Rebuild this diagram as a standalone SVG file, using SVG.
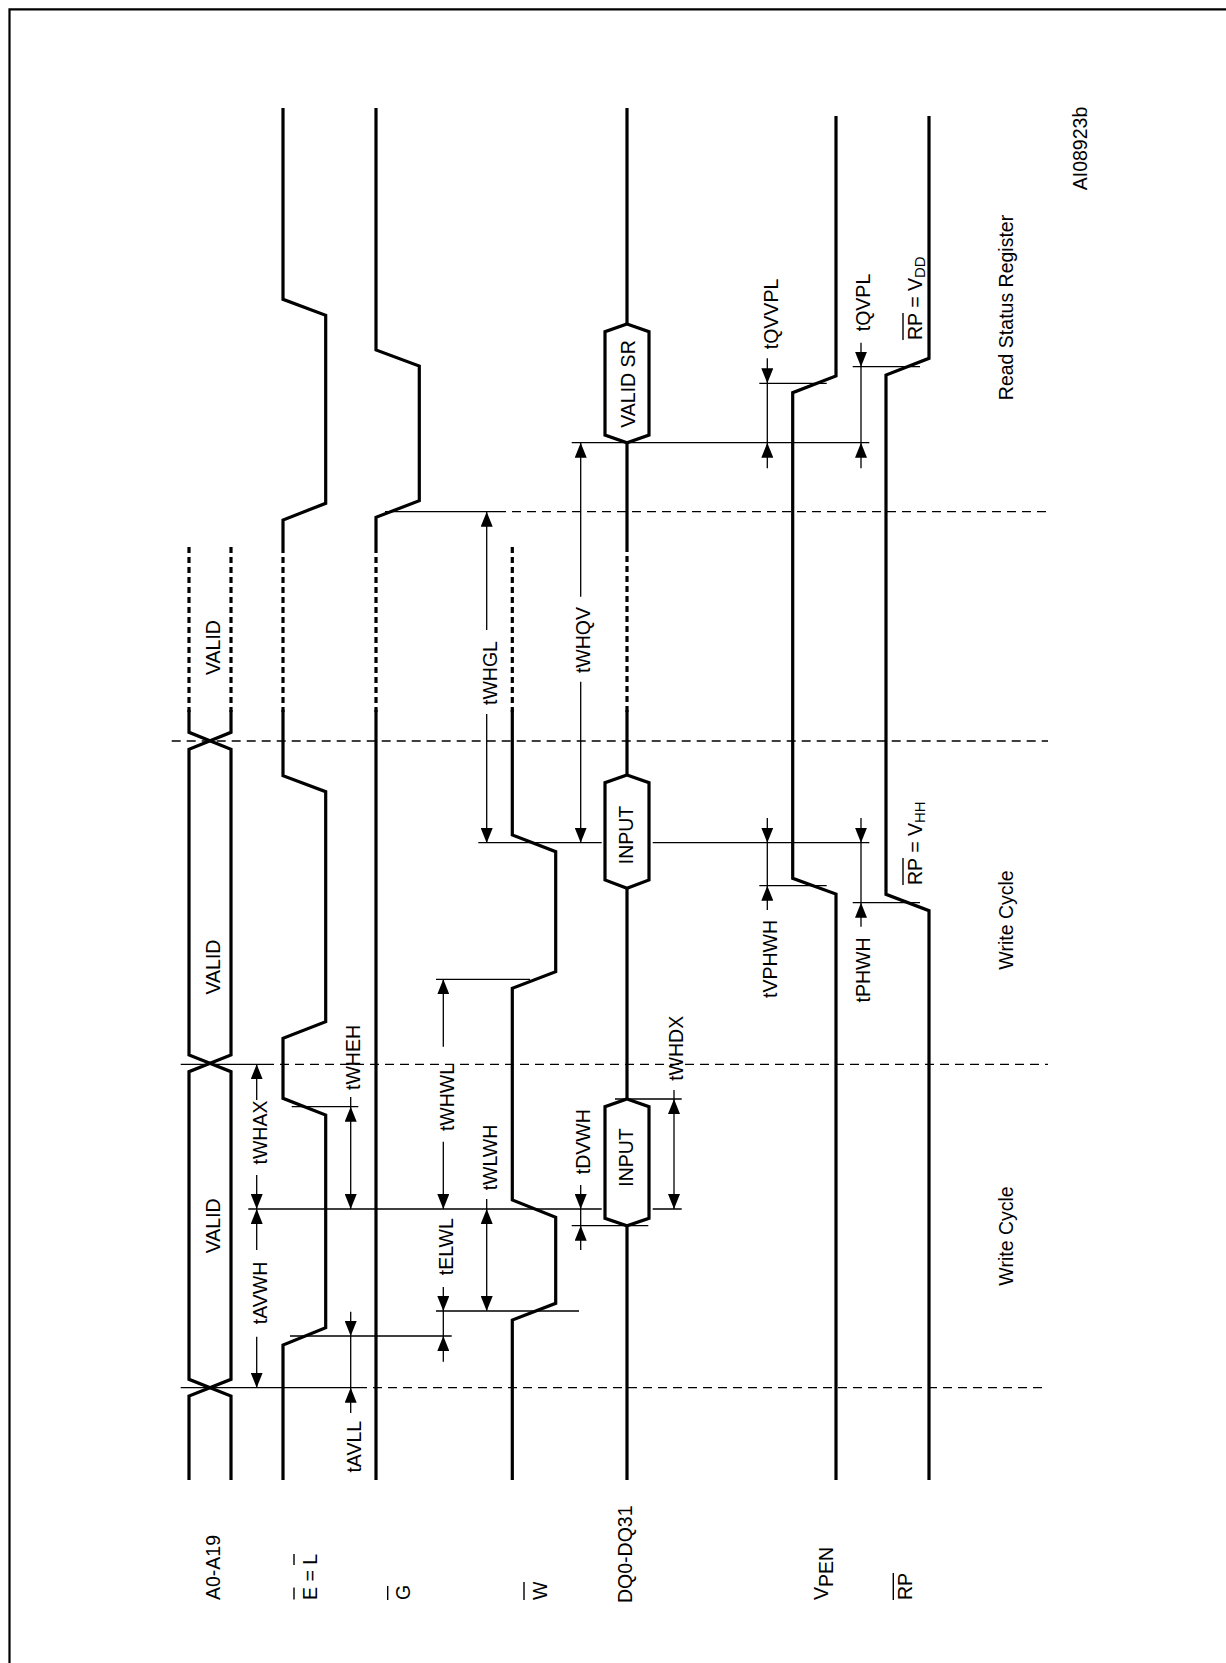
<svg xmlns="http://www.w3.org/2000/svg" width="1226" height="1663" viewBox="0 0 1226 1663">
<style>
.sig{fill:none;stroke:#000;stroke-width:3.2;stroke-linejoin:miter}
.dot{stroke-dasharray:6 4}
.hex{fill:#fff;stroke:#000;stroke-width:3.2}
.thin{fill:none;stroke:#000;stroke-width:1.3}
.dash{stroke-dasharray:9 6}
.a1{marker-end:url(#ah)}
.a2{marker-start:url(#ah);marker-end:url(#ah)}
.bar{stroke:#000;stroke-width:1.4}
text{font-family:"Liberation Sans",Arial,sans-serif;font-size:19.5px;fill:#000}
.lab{text-anchor:start}
.mid{text-anchor:middle}
</style>
<defs>
<marker id="ah" markerUnits="userSpaceOnUse" markerWidth="16" markerHeight="12" refX="15" refY="6" orient="auto-start-reverse">
<path d="M0,0 L15,6 L0,12 z" fill="#000"/>
</marker>
</defs>
<rect width="1226" height="1663" fill="#fff"/>
<path d="M9.5,1663 V9.3 H1226" fill="none" stroke="#000" stroke-width="2.2"/>

<g id="sig-a">
<path class="sig dot" d="M189,547 V712 M231,547 V712"/>
<path class="sig" d="M189,710 V732.3 L231,749.3 V1055 L189,1071.7 V1379.3 L231,1396 V1480"/>
<path class="sig" d="M231,710 V732.3 L189,749.3 V1055 L231,1071.7 V1379.3 L189,1396 V1480"/>
<text class="mid" transform="translate(220,1225.8) rotate(-90)">VALID</text>
<text class="mid" transform="translate(220,967) rotate(-90)">VALID</text>
<text class="mid" transform="translate(220,647.5) rotate(-90)">VALID</text>
<text class="lab" transform="translate(220,1600) rotate(-90)">A0-A19</text>
</g>

<g id="sig-e">
<path class="sig" d="M283,108 V299.3 L325.7,315.3 V503.3 L283,520 V547"/>
<path class="sig dot" d="M283,547 V712"/>
<path class="sig" d="M283,710 V775.7 L325.7,791.7 V1021.7 L283,1038.3 V1098.3 L325.7,1115 V1327.7 L283,1345 V1480"/>
<text class="lab" transform="translate(316.7,1600) rotate(-90)">E = L</text>
<path class="bar" d="M294,1599.5 V1587.5 M294,1565 V1554"/>
</g>

<g id="sig-g">
<path class="sig" d="M376,108 V350 L419.3,366 V500.7 L376,517.3 V547"/>
<path class="sig dot" d="M376,547 V712"/>
<path class="sig" d="M376,710 V1480"/>
<text class="lab" transform="translate(410,1600) rotate(-90)">G</text>
<path class="bar" d="M387.7,1600 V1586"/>
</g>

<g id="sig-w">
<path class="sig dot" d="M512.3,547 V712"/>
<path class="sig" d="M512.3,710 V835 L555.7,851.7 V971.7 L512.3,988.3 V1200 L555.7,1217.3 V1303.3 L512.3,1320 V1480"/>
<text class="lab" transform="translate(546.7,1600) rotate(-90)">W</text>
<path class="bar" d="M524,1600 V1582"/>
</g>

<g id="sig-dq">
<path class="sig" d="M627,108 V324 M627,442.7 V546"/>
<path class="sig dot" d="M627,546 V712"/>
<path class="sig" d="M627,710 V775 M627,888.3 V1099 M627,1225.7 V1480"/>
<polygon class="hex" points="627,324 649,331.7 649,435 627,442.7 605,435 605,331.7"/>
<polygon class="hex" points="627,775 649,782.7 649,880 627,888.3 605,880 605,782.7"/>
<polygon class="hex" points="627,1099 649,1106.7 649,1218.3 627,1225.7 605,1218.3 605,1106.7"/>
<text class="mid" transform="translate(635,384) rotate(-90)">VALID SR</text>
<text class="mid" transform="translate(633,835) rotate(-90)">INPUT</text>
<text class="mid" transform="translate(633,1157.5) rotate(-90)">INPUT</text>
<text class="lab" transform="translate(631.7,1603) rotate(-90)">DQ0-DQ31</text>
</g>

<g id="sig-vpen">
<path class="sig" d="M836,116 V376 L792.7,392.7 V878.3 L836,894 V1480"/>
<text class="lab" transform="translate(828.3,1600) rotate(-90)">V<tspan dy="5">PEN</tspan></text>
</g>

<g id="sig-rp">
<path class="sig" d="M929,116 V358.3 L886,375 V894.3 L929,910.7 V1480"/>
<text class="lab" transform="translate(911.7,1600) rotate(-90)">RP</text>
<path class="bar" d="M893.3,1600 V1573"/>
<text class="lab" transform="translate(921.5,340) rotate(-90)">RP = V<tspan font-size="15" dy="3.5">DD</tspan></text>
<path class="bar" d="M903,340 V313"/>
<text class="lab" transform="translate(921.5,885) rotate(-90)">RP = V<tspan font-size="15" dy="3.5">HH</tspan></text>
<path class="bar" d="M903,885 V858"/>
</g>

<g id="notes">
<text class="mid" transform="translate(1013,1236) rotate(-90)">Write Cycle</text>
<text class="mid" transform="translate(1013,920) rotate(-90)">Write Cycle</text>
<text class="mid" transform="translate(1013,307.5) rotate(-90)">Read Status Register</text>
<text class="mid" transform="translate(1087,148.5) rotate(-90)" font-size="16">AI08923b</text>
</g>

<g id="connectors">
<path class="thin" d="M180.7,1387.7 H358 M180.7,1064.3 H265 M385,511.7 H497"/>
<path class="thin dash" d="M358,1387.7 H1048 M265,1064.3 H1048 M171.7,741 H1048 M497,511.7 H1048"/>
<path class="thin" d="M290,1336 H451.7 M291.7,1106.7 H358.3 M248.3,1209 H601.7 M652.7,1209 H681.7 M436,1311 H579 M436,979.3 H530 M478.3,842.7 H601.7 M652.7,842.7 H869.3 M615,1099 H681.7 M571.7,1225.7 H648.3 M571.7,442.7 H869.3 M759.3,885.7 H826.7 M852.7,902.7 H920 M759.3,383.3 H826.7 M852.7,366.7 H920"/>

<path class="thin a1" d="M350.7,1311.7 V1336"/>
<path class="thin" d="M350.7,1336 V1387.7"/>
<path class="thin a1" d="M350.7,1413 V1387.7"/>
<text class="mid" transform="translate(360.5,1446.7) rotate(-90)">tAVLL</text>

<path class="thin a1" d="M256.7,1250 V1209"/>
<path class="thin a1" d="M256.7,1336.7 V1387.7"/>
<text class="mid" transform="translate(266.7,1293) rotate(-90)">tAVWH</text>

<path class="thin a1" d="M256.7,1100 V1064.3"/>
<path class="thin a1" d="M256.7,1175 V1209"/>
<text class="mid" transform="translate(266.7,1132.5) rotate(-90)">tWHAX</text>

<path class="thin" d="M350.7,1097 V1106.7"/>
<path class="thin a2" d="M350.7,1106.7 V1209"/>
<text class="mid" transform="translate(360,1057.5) rotate(-90)">tWHEH</text>

<path class="thin a1" d="M443.3,1046.7 V979.3"/>
<path class="thin a1" d="M443.3,1141.7 V1209"/>
<text class="mid" transform="translate(453.5,1097.5) rotate(-90)">tWHWL</text>

<path class="thin a1" d="M443.3,1287 V1311"/>
<path class="thin" d="M443.3,1311 V1336"/>
<path class="thin a1" d="M443.3,1361.7 V1336"/>
<text class="mid" transform="translate(453,1246.7) rotate(-90)">tELWL</text>

<path class="thin" d="M486.7,1199 V1209"/>
<path class="thin a2" d="M486.7,1209 V1311"/>
<text class="mid" transform="translate(496.7,1157.5) rotate(-90)">tWLWH</text>

<path class="thin a1" d="M580.7,1185 V1209"/>
<path class="thin" d="M580.7,1209 V1225.7"/>
<path class="thin a1" d="M580.7,1250 V1225.7"/>
<text class="mid" transform="translate(590,1141.7) rotate(-90)">tDVWH</text>

<path class="thin" d="M674,1090 V1099"/>
<path class="thin a2" d="M674,1099 V1209"/>
<text class="mid" transform="translate(683.3,1048.3) rotate(-90)">tWHDX</text>

<path class="thin a1" d="M486.7,630 V511.7"/>
<path class="thin a1" d="M486.7,714 V843"/>
<text class="mid" transform="translate(496.7,673) rotate(-90)">tWHGL</text>

<path class="thin a1" d="M580.7,596.7 V442.7"/>
<path class="thin a1" d="M580.7,681.7 V842.7"/>
<text class="mid" transform="translate(590,640) rotate(-90)">tWHQV</text>

<path class="thin a1" d="M767.3,818 V842.7"/>
<path class="thin" d="M767.3,842.7 V885.7"/>
<path class="thin a1" d="M767.3,910 V885.7"/>
<text class="mid" transform="translate(776.7,959) rotate(-90)">tVPHWH</text>

<path class="thin a1" d="M861,818 V842.7"/>
<path class="thin" d="M861,842.7 V902.7"/>
<path class="thin a1" d="M861,926.7 V902.7"/>
<text class="mid" transform="translate(870,970) rotate(-90)">tPHWH</text>

<path class="thin a1" d="M767.3,358.3 V383.3"/>
<path class="thin" d="M767.3,383.3 V442.7"/>
<path class="thin a1" d="M767.3,468.3 V442.7"/>
<text class="mid" transform="translate(778,314) rotate(-90)">tQVVPL</text>

<path class="thin a1" d="M861,342.7 V366.7"/>
<path class="thin" d="M861,366.7 V442.7"/>
<path class="thin a1" d="M861,468.3 V442.7"/>
<text class="mid" transform="translate(870,302.5) rotate(-90)">tQVPL</text>
</g>
</svg>
